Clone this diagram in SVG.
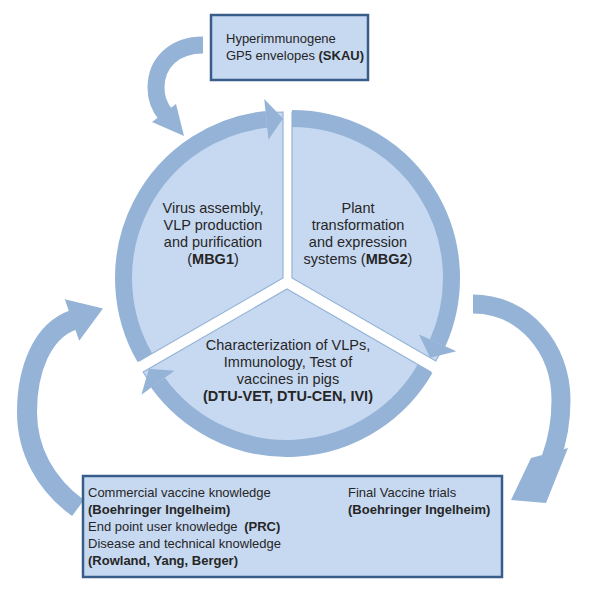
<svg xmlns="http://www.w3.org/2000/svg" width="595" height="600" viewBox="0 0 595 600">
<style>
.wedge{fill:#C6D9F1;stroke:#95B3D7;stroke-width:1.2}
.band{fill:none;stroke:#95B3D7;stroke-width:17}
.bigband{fill:none;stroke:#95B3D7;stroke-width:18}
.head{fill:#95B3D7}
.box{fill:#C6D9F1;stroke:#385D8A;stroke-width:2.5}
text{font-family:"Liberation Sans",Arial,sans-serif;fill:#262626}
.wt{font-size:14.5px;text-anchor:middle}
.bt{font-size:13px}
.b{font-weight:bold}
</style>
<rect width="595" height="600" fill="#ffffff"/>

<g id="connectors">
  <!-- SKAU arrow -->
  <path class="bigband" d="M203,45 C175,45 156,62 156,88 C156,100 160,108 166,115" style="stroke-width:17"/>
  <polygon class="head" points="152,122 176,104 184,136"/>
  <!-- right arrow -->
  <path class="bigband" d="M473,304 C524,304 561,348 561,400 C561,425 557,442 551,458" style="stroke-width:19"/>
  <polygon class="head" points="531,458 568,448 546,503 511,500"/>
  <!-- left arrow -->
  <path class="bigband" d="M78,508 C45,484 27,450 27,412 C27,370 42,331 73,320" style="stroke-width:20"/>
  <polygon class="head" points="64.8,299.2 103,308.6 79.2,340.8"/>
</g>

<g id="wedge-mbg1">
  <path class="wedge" d="M283,278 L283,112 A166,166 0 0 0 139.2,361 Z"/>
  <path class="band" d="M144.9,357.75 A159.5,159.5 0 0 1 266.3,119.4"/>
  <polygon class="head" points="268.5,139.8 264.2,99 283,118.5"/>
  <text class="wt" x="213" y="213">Virus assembly,</text>
  <text class="wt" x="213" y="230">VLP production</text>
  <text class="wt" x="213" y="247">and purification</text>
  <text class="wt" x="213" y="264">(<tspan class="b">MBG1</tspan>)</text>
</g>

<g id="wedge-mbg2">
  <path class="wedge" d="M292,278 L292,112 A166,166 0 0 1 435.8,361 Z"/>
  <path class="band" d="M292,118.5 A159.5,159.5 0 0 1 437.7,342.9"/>
  <polygon class="head" points="419,334.5 456.4,351.2 430.1,357.75"/>
  <text class="wt" x="358" y="213">Plant</text>
  <text class="wt" x="358" y="230">transformation</text>
  <text class="wt" x="358" y="247">and expression</text>
  <text class="wt" x="358" y="264">systems (<tspan class="b">MBG2</tspan>)</text>
</g>

<g id="wedge-dtu">
  <path class="wedge" d="M287,289 L430.8,372 A166,166 0 0 1 143.2,372 Z"/>
  <path class="band" d="M425.1,368.75 A159.5,159.5 0 0 1 158,382.75"/>
  <polygon class="head" points="174.5,370.7 141.4,394.8 148.9,368.75"/>
  <text class="wt" x="288" y="350">Characterization of VLPs,</text>
  <text class="wt" x="288" y="367">Immunology, Test of</text>
  <text class="wt" x="288" y="384">vaccines in pigs</text>
  <text class="wt b" x="288" y="401">(DTU-VET, DTU-CEN, IVI)</text>
</g>

<g id="box-skau">
  <rect class="box" x="211" y="15" width="157" height="65"/>
  <text class="bt" x="226" y="43">Hyperimmunogene</text>
  <text class="bt" x="226" y="60">GP5 envelopes <tspan class="b">(SKAU)</tspan></text>
</g>

<g id="box-partners">
  <rect class="box" x="83" y="476" width="419" height="101"/>
  <text class="bt" x="88" y="497">Commercial vaccine knowledge</text>
  <text class="bt b" x="88" y="514">(Boehringer Ingelheim)</text>
  <text class="bt" x="88" y="531">End point user knowledge <tspan class="b" dx="3">(PRC)</tspan></text>
  <text class="bt" x="88" y="548">Disease and technical knowledge</text>
  <text class="bt b" x="88" y="565">(Rowland, Yang, Berger)</text>
  <text class="bt" x="348" y="497">Final Vaccine trials</text>
  <text class="bt b" x="348" y="514">(Boehringer Ingelheim)</text>
</g>
</svg>
